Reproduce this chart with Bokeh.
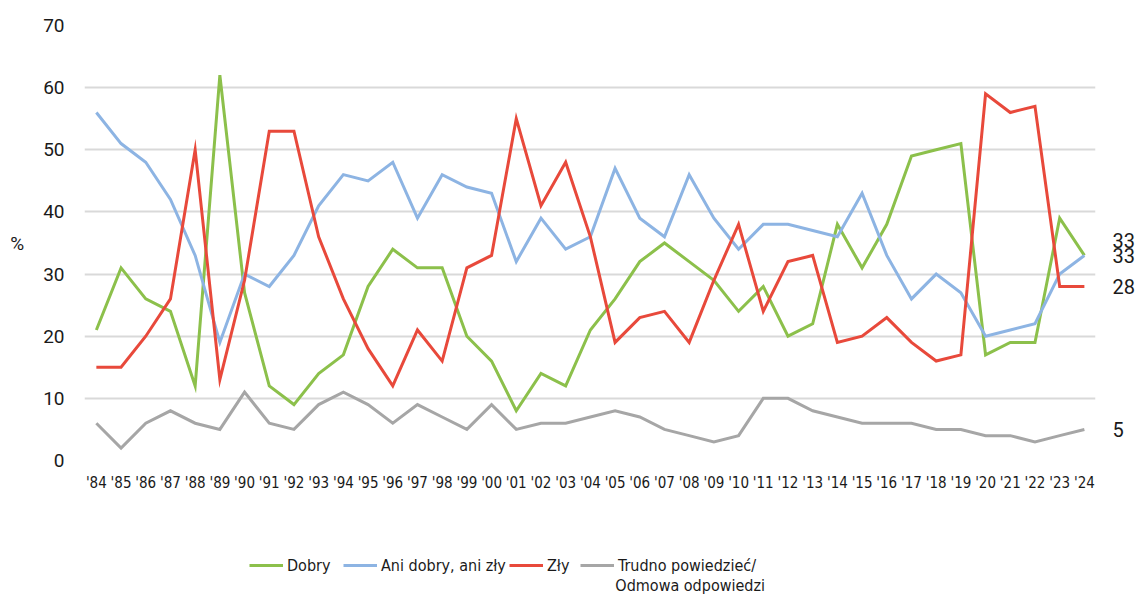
from bokeh.plotting import figure
from bokeh.layouts import column
from bokeh.models import (ColumnDataSource, FixedTicker, Legend, LegendItem, LinearAxis,
                          Range1d, AllLabels)
from bokeh.core.properties import value
from bokeh.embed import file_html
from bokeh.resources import INLINE

years = ["'84", "'85", "'86", "'87", "'88", "'89", "'90", "'91", "'92", "'93", "'94", "'95",
         "'96", "'97", "'98", "'99", "'00", "'01", "'02", "'03", "'04", "'05", "'06", "'07",
         "'08", "'09", "'10", "'11", "'12", "'13", "'14", "'15", "'16", "'17", "'18", "'19",
         "'20", "'21", "'22", "'23", "'24"]

dobry = [21, 31, 26, 24, 12, 62, 27, 12, 9, 14, 17, 28, 34, 31, 31, 20, 16, 8, 14, 12, 21,
         26, 32, 35, 32, 29, 24, 28, 20, 22, 38, 31, 38, 49, 50, 51, 17, 19, 19, 39, 33]
ani = [56, 51, 48, 42, 33, 19, 30, 28, 33, 41, 46, 45, 48, 39, 46, 44, 43, 32, 39, 34, 36,
       47, 39, 36, 46, 39, 34, 38, 38, 37, 36, 43, 33, 26, 30, 27, 20, 21, 22, 30, 33]
zly = [15, 15, 20, 26, 50, 13, 29, 53, 53, 36, 26, 18, 12, 21, 16, 31, 33, 55, 41, 48, 36,
       19, 23, 24, 19, 29, 38, 24, 32, 33, 19, 20, 23, 19, 16, 17, 59, 56, 57, 28, 28]
trudno = [6, 2, 6, 8, 6, 5, 11, 6, 5, 9, 11, 9, 6, 9, 7, 5, 9, 5, 6, 6, 7,
          8, 7, 5, 4, 3, 4, 10, 10, 8, 7, 6, 6, 6, 5, 5, 4, 4, 3, 4, 5]

series_names = ["Dobry", "Ani dobry, ani zły", "Zły", "Trudno powiedzieć/"]
legend_second_line = "Odmowa odpowiedzi"
series_colors = ["#8cc04b", "#8db4e3", "#e8493b", "#a6a6a6"]
y_ticks = [0, 10, 20, 30, 40, 50, 60, 70]

x = list(range(len(years)))
src = ColumnDataSource(dict(x=x, dobry=dobry, ani=ani, zly=zly, trudno=trudno))

NARROW = ("'Liberation Sans Narrow', 'Noto Sans ExtraCondensed', 'Noto Sans Condensed', "
          "'DejaVu Sans Condensed', sans-serif")
TXT = "#1a1a1a"

p = figure(width=1137, height=500, output_backend="svg", toolbar_location=None,
           x_range=Range1d(-0.48, 40.45), y_range=Range1d(0, 70),
           min_border_left=84, min_border_right=36, min_border_top=25, min_border_bottom=40)
p.outline_line_color = None

p.xgrid.grid_line_color = None
p.ygrid.grid_line_color = "#d9d9d9"
p.ygrid.grid_line_width = 2

p.yaxis.ticker = FixedTicker(ticks=y_ticks)
p.xaxis.ticker = FixedTicker(ticks=x)
p.xaxis.major_label_overrides = {i: years[i] for i in x}
for ax in (p.xaxis, p.yaxis):
    ax.axis_line_color = None
    ax.major_tick_line_color = None
    ax.minor_tick_line_color = None
    ax.major_label_policy = AllLabels()
p.yaxis.major_label_text_font = "Roboto"
p.yaxis.major_label_text_font_size = "19px"
p.yaxis.major_label_text_color = TXT
p.yaxis.major_label_standoff = 14
p.yaxis.axis_label = "%"
p.yaxis.axis_label_orientation = "horizontal"
p.yaxis.axis_label_text_font = "Roboto"
p.yaxis.axis_label_text_font_style = "normal"
p.yaxis.axis_label_text_font_size = "19px"
p.yaxis.axis_label_text_color = TXT
p.yaxis.axis_label_standoff = 16

p.xaxis.major_label_text_font = NARROW
p.xaxis.major_label_text_font_size = "15px"
p.xaxis.major_label_text_color = TXT
p.xaxis.major_label_standoff = 7

keys = ["dobry", "ani", "zly", "trudno"]
for k, c in zip(keys, series_colors):
    p.line("x", k, source=src, line_color=c, line_width=3, line_join="miter")

# end-value labels on a right axis
last = len(years) - 1
end_vals = [dobry[last], ani[last], zly[last], trudno[last]]
end_pos = [end_vals[0] + 2.4, end_vals[1], end_vals[2], end_vals[3]]
right = LinearAxis(ticker=FixedTicker(ticks=end_pos),
                   major_label_overrides={pos: str(v) for pos, v in zip(end_pos, end_vals)},
                   axis_line_color=None, major_tick_line_color=None, minor_tick_line_color=None,
                   major_label_standoff=11, major_label_text_font="Roboto",
                   major_label_text_font_size="20px", major_label_text_color=TXT,
                   major_label_policy=AllLabels())
p.add_layout(right, "right")

# legend panel below. Its frame is aligned with the main frame (84..1101 px), so the
# x range is given in page pixels; y measured downward as negative numbers.
# Its line renderers share the data but lie outside this range: only legend glyphs show.
FRAME_L, FRAME_R = 84, 1101
lg = figure(width=1137, height=100, output_backend="svg", toolbar_location=None,
            x_axis_location=None, y_axis_location=None, min_border=0,
            x_range=Range1d(FRAME_L, FRAME_R), y_range=Range1d(-100, 0))
lg.outline_line_color = None
lg.grid.grid_line_color = None
item_x = [249, 343, 509, 580]
for k, c, n, lx in zip(keys, series_colors, series_names, item_x):
    r = lg.line("x", k, source=src, line_color=c, line_width=3)
    leg = Legend(items=[LegendItem(label=n, renderers=[r])], location=(lx - FRAME_L, 25),
                 border_line_color=None, background_fill_alpha=0, padding=0, margin=0,
                 label_standoff=4, glyph_width=34, glyph_height=20,
                 label_text_font=NARROW, label_text_font_size="16px",
                 label_text_color=TXT)
    lg.add_layout(leg, "center")
lg.text(x=[item_x[3] + 38], y=[-85], text=[legend_second_line], text_font=value(NARROW),
        text_font_size="16px", text_color=TXT, text_baseline="middle", text_align="left")

layout = column(p, lg, spacing=0)
open("out.html", "w").write(file_html(layout, INLINE))
